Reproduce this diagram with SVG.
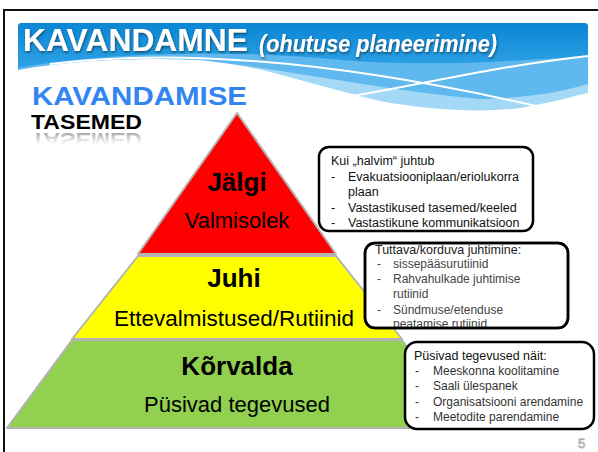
<svg xmlns="http://www.w3.org/2000/svg" width="598" height="452" viewBox="0 0 598 452">
  <defs>
    <linearGradient id="gDark" x1="0" y1="0" x2="0" y2="1">
      <stop offset="0" stop-color="#0a86d4"/>
      <stop offset="1" stop-color="#2fa2e6"/>
    </linearGradient>
    <linearGradient id="gRefl" gradientUnits="userSpaceOnUse" x1="0" y1="129" x2="0" y2="117">
      <stop offset="0" stop-color="#8a8a8a" stop-opacity="0.75"/>
      <stop offset="1" stop-color="#bbbbbb" stop-opacity="0"/>
    </linearGradient>
    <filter id="shadow" x="-5%" y="-20%" width="110%" height="150%">
      <feDropShadow dx="0.8" dy="1.5" stdDeviation="0.9" flood-color="#123" flood-opacity="0.65"/>
    </filter>
    <clipPath id="clipBox2">
      <rect x="365" y="243" width="203" height="84" rx="10"/>
    </clipPath>
    <style>
      .sans { font-family: "Liberation Sans", Arial, Helvetica, sans-serif; }
      .tier { stroke: #b3b3b3; stroke-width: 2; stroke-linejoin: round; }
      .tb { font-family: "Liberation Sans", Arial, sans-serif; font-weight: bold; font-size: 26px; fill: #000; text-anchor: middle; }
      .tr { font-family: "Liberation Sans", Arial, sans-serif; font-size: 22px; fill: #000; text-anchor: middle; }
      .box { fill: #fff; stroke: #000; stroke-width: 2.5; }
      .bt { font-family: "Liberation Sans", Arial, sans-serif; font-size: 12.5px; }
      .bi { font-family: "Liberation Sans", Arial, sans-serif; font-size: 12px; }
    </style>
  </defs>

  <rect x="0" y="0" width="598" height="452" fill="#fff"/>
  <rect id="frame" x="4" y="10" width="700" height="600" fill="none" stroke="#111" stroke-width="2"/>

  <g id="banner">
    <path d="M18,27 Q18,23 22,23 L584,23 Q588,23 588,27 L588,93 C570,97 550,103 520,108 C480,113 430,110 380,101 C300,82 260,65 200,60 C130,57 60,62 18,70 Z" fill="#a3d9f7"/>
    <path d="M18,27 Q18,23 22,23 L584,23 Q588,23 588,27 L588,84 C560,92 530,98 480,99 C380,90 290,70 200,60 C130,57 60,62 18,70 Z" fill="#5fb8ee"/>
    <path d="M18,27 Q18,23 22,23 L584,23 Q588,23 588,27 L588,56 C500,62 420,68 320,58 C200,48 80,56 18,68 Z" fill="url(#gDark)"/>
    <path d="M50,64 C200,45 380,70 545,108" fill="none" stroke="#fff" stroke-width="2"/>
    <path d="M327,100 C400,90 480,68 588,56" fill="none" stroke="#fff" stroke-width="2"/>
  </g>

  <g id="title" filter="url(#shadow)">
    <text class="sans" x="23" y="51" font-size="32" font-weight="bold" fill="#fff" textLength="225" lengthAdjust="spacingAndGlyphs">KAVANDAMNE</text>
    <text class="sans" x="259" y="52" font-size="23" font-weight="bold" font-style="italic" fill="#fff" textLength="238" lengthAdjust="spacingAndGlyphs">(ohutuse planeerimine)</text>
  </g>

  <g id="subtitle">
    <text class="sans" x="32" y="105" font-size="25" font-weight="bold" fill="#3385f2" textLength="215" lengthAdjust="spacingAndGlyphs">KAVANDAMISE</text>
    <text class="sans" x="31" y="129" font-size="21" font-weight="bold" fill="#000" textLength="111" lengthAdjust="spacingAndGlyphs">TASEMED</text>
    <text class="sans" x="31" y="129" font-size="21" font-weight="bold" fill="url(#gRefl)" textLength="111" lengthAdjust="spacingAndGlyphs" transform="translate(0,262) scale(1,-1)">TASEMED</text>
  </g>

  <g id="tier-korvalda">
    <polygon class="tier" points="72,340 402,340 467,428 7,428" fill="#92d050"/>
    <text class="tb" x="237" y="375">Kõrvalda</text>
    <text class="tr" x="237" y="412">Püsivad tegevused</text>
  </g>

  <g id="tier-juhi">
    <polygon class="tier" points="138,256 336,256 402,339 72,339" fill="#ffff00"/>
    <text class="tb" x="234" y="287">Juhi</text>
    <text class="tr" x="234" y="326" textLength="240" lengthAdjust="spacingAndGlyphs">Ettevalmistused/Rutiinid</text>
  </g>

  <g id="tier-jalgi">
    <polygon class="tier" points="237,113 336,254 138,254" fill="#ff0000"/>
    <text class="tb" x="237" y="191">Jälgi</text>
    <text class="tr" x="237" y="228">Valmisolek</text>
  </g>

  <g id="box-jalgi">
    <rect class="box" x="319" y="147" width="214" height="84" rx="10"/>
    <g fill="#111">
      <text class="bt" x="331" y="165">Kui „halvim“ juhtub</text>
      <text class="bt" x="331" y="180.5">-</text>
      <text class="bt" x="348" y="180.5">Evakuatsiooniplaan/eriolukorra</text>
      <text class="bt" x="348" y="196">plaan</text>
      <text class="bt" x="331" y="211.5">-</text>
      <text class="bt" x="348" y="211.5">Vastastikused tasemed/keeled</text>
      <text class="bt" x="331" y="227">-</text>
      <text class="bt" x="348" y="227">Vastastikune kommunikatsioon</text>
    </g>
  </g>

  <g id="box-juhi">
    <rect class="box" x="365" y="243" width="203" height="85" rx="10"/>
    <g clip-path="url(#clipBox2)">
      <text class="bt" x="375" y="254" fill="#222">Tuttava/korduva juhtimine:</text>
      <g fill="#444">
        <text class="bi" x="377" y="268">-</text>
        <text class="bi" x="393" y="268">sissepääsurutiinid</text>
        <text class="bi" x="377" y="283">-</text>
        <text class="bi" x="393" y="283">Rahvahulkade juhtimise</text>
        <text class="bi" x="393" y="298">rutiinid</text>
        <text class="bi" x="377" y="314">-</text>
        <text class="bi" x="393" y="314">Sündmuse/etenduse</text>
        <text class="bi" x="393" y="328">peatamise rutiinid</text>
      </g>
    </g>
    <rect x="365" y="243" width="203" height="85" rx="10" fill="none" stroke="#000" stroke-width="2.5"/>
  </g>

  <g id="box-korvalda">
    <rect class="box" x="405" y="342" width="189" height="87" rx="12"/>
    <text class="bt" x="414" y="360" fill="#111">Püsivad tegevused näit:</text>
    <g fill="#333">
      <text class="bi" x="415" y="375">-</text>
      <text class="bi" x="433" y="375">Meeskonna koolitamine</text>
      <text class="bi" x="415" y="390">-</text>
      <text class="bi" x="433" y="390">Saali ülespanek</text>
      <text class="bi" x="415" y="405.5">-</text>
      <text class="bi" x="433" y="405.5">Organisatsiooni arendamine</text>
      <text class="bi" x="415" y="421">-</text>
      <text class="bi" x="433" y="421">Meetodite parendamine</text>
    </g>
  </g>

  <g id="connectors"/>

  <text id="slide-number" class="sans" x="578" y="448" font-size="13" fill="#fff" stroke="#aaa" stroke-width="0.8">5</text>
</svg>
